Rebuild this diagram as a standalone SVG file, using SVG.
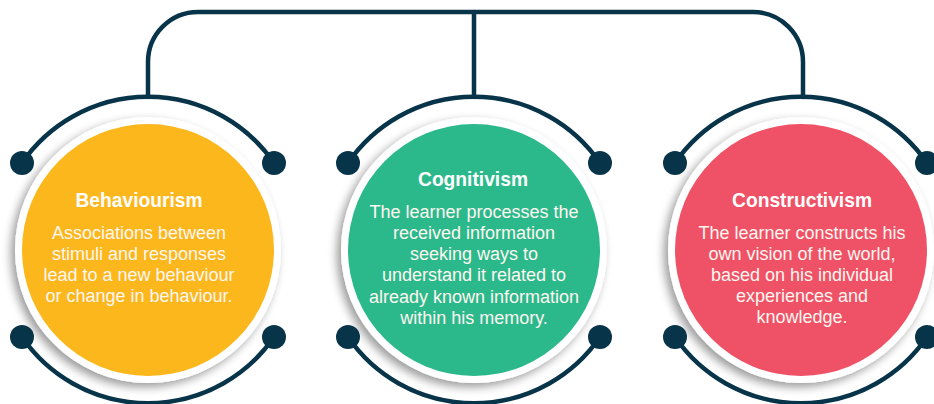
<svg xmlns="http://www.w3.org/2000/svg" width="934" height="404" viewBox="0 0 934 404">
  <defs>
    <filter id="soft" x="-20%" y="-20%" width="140%" height="140%">
      <feGaussianBlur in="SourceAlpha" stdDeviation="5"/>
      <feOffset dx="-4" dy="4" result="b"/>
      <feComponentTransfer><feFuncA type="linear" slope="0.4"/></feComponentTransfer>
      <feMerge><feMergeNode/><feMergeNode in="SourceGraphic"/></feMerge>
    </filter>
  </defs>
  <style>
    .line { fill: none; stroke: #08344A; stroke-width: 4.5; stroke-linecap: round; }
    .dot { fill: #08344A; }
    .ring { fill: #FFFFFF; filter: url(#soft); }
    .title { font-family: "Liberation Sans", Arial, sans-serif; font-weight: bold; font-size: 21px; fill: #FFFFFF; text-anchor: middle; }
    .body { font-family: "Liberation Sans", Arial, sans-serif; font-size: 18px; fill: #FFF6F0; text-anchor: middle; }
  </style>
  <rect width="934" height="404" fill="#FFFFFF"/>

  <!-- top bracket joining the three circles -->
  <g id="connectors">
    <path class="line" d="M148 97 V62 A50 50 0 0 1 198 12 H753 A50 50 0 0 1 803 62 V97"/>
    <path class="line" d="M474 12 V97"/>
  </g>

  <!-- Behaviourism -->
  <g id="behaviourism">
    <circle class="ring" cx="148" cy="250" r="133"/>
    <circle cx="148" cy="250" r="126" fill="#FCB71C"/>
    <path class="line" d="M22 163 A153 153 0 0 1 274 163"/>
    <path class="line" d="M22 337 A153 153 0 0 0 274 337"/>
    <circle class="dot" cx="22" cy="163" r="12"/>
    <circle class="dot" cx="274" cy="163" r="12"/>
    <circle class="dot" cx="22" cy="337" r="12"/>
    <circle class="dot" cx="274" cy="337" r="12"/>
    <text class="title" x="139" y="207" textLength="127" lengthAdjust="spacingAndGlyphs">Behaviourism</text>
    <text class="body" x="139" y="239">Associations between</text>
    <text class="body" x="139" y="260">stimuli and responses</text>
    <text class="body" x="139" y="281">lead to a new behaviour</text>
    <text class="body" x="139" y="302">or change in behaviour.</text>
  </g>

  <!-- Cognitivism -->
  <g id="cognitivism">
    <circle class="ring" cx="474" cy="250" r="133"/>
    <circle cx="474" cy="250" r="126" fill="#2BB98C"/>
    <path class="line" d="M348 163 A153 153 0 0 1 600 163"/>
    <path class="line" d="M348 337 A153 153 0 0 0 600 337"/>
    <circle class="dot" cx="348" cy="163" r="12"/>
    <circle class="dot" cx="600" cy="163" r="12"/>
    <circle class="dot" cx="348" cy="337" r="12"/>
    <circle class="dot" cx="600" cy="337" r="12"/>
    <text class="title" x="473" y="186" textLength="110" lengthAdjust="spacingAndGlyphs">Cognitivism</text>
    <text class="body" x="474" y="218">The learner processes the</text>
    <text class="body" x="474" y="239">received information</text>
    <text class="body" x="474" y="260">seeking ways to</text>
    <text class="body" x="474" y="281">understand it related to</text>
    <text class="body" x="474" y="303">already known information</text>
    <text class="body" x="474" y="324">within his memory.</text>
  </g>

  <!-- Constructivism -->
  <g id="constructivism">
    <circle class="ring" cx="801" cy="250" r="133"/>
    <circle cx="801" cy="250" r="126" fill="#EF5266"/>
    <path class="line" d="M675 163 A153 153 0 0 1 927 163"/>
    <path class="line" d="M675 337 A153 153 0 0 0 927 337"/>
    <circle class="dot" cx="675" cy="163" r="12"/>
    <circle class="dot" cx="927" cy="163" r="12"/>
    <circle class="dot" cx="675" cy="337" r="12"/>
    <circle class="dot" cx="927" cy="337" r="12"/>
    <text class="title" x="802" y="207" textLength="140" lengthAdjust="spacingAndGlyphs">Constructivism</text>
    <text class="body" x="802" y="239">The learner constructs his</text>
    <text class="body" x="802" y="260">own vision of the world,</text>
    <text class="body" x="802" y="281">based on his individual</text>
    <text class="body" x="802" y="302">experiences and</text>
    <text class="body" x="802" y="323">knowledge.</text>
  </g>
</svg>
